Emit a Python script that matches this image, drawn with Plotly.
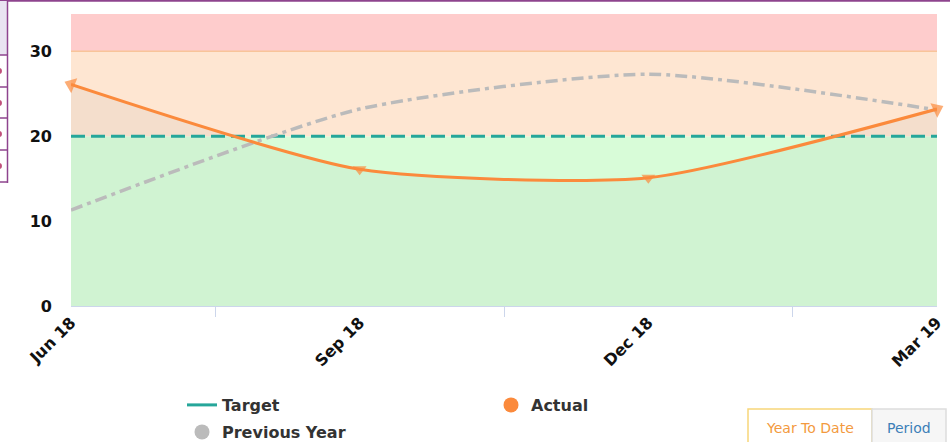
import plotly.graph_objects as go

# ---- data ----
months = ["Jun 18", "Sep 18", "Dec 18", "Mar 19"]
actual = [26.1, 16.1, 15.1, 23.2]
previous_year = [11.3, 23.2, 27.3, 23.1]
target = [20, 20, 20, 20]

# band limits (value axis)
band_green = (0, 20)
band_orange = (20, 30)
band_red = (30, 35)
y_max = 34.4

W, H = 950, 442
ML, MR, MT, MB = 71, 13, 14, 136
PW, PH = W - ML - MR, H - MT - MB

xs = list(range(len(months)))

ORANGE = "#fb8a3c"
TEAL = "#26a69a"
GREY = "#bbbbbb"
SMOOTH = 0.62


def px(x):
    return (x - ML) / PW


def py(y):
    return (H - MB - y) / PH


fig = go.Figure()

# Actual: soft shaded area under the line
fig.add_trace(go.Scatter(
    x=xs, y=actual, mode="lines", fill="tozeroy",
    fillcolor="rgba(90,100,120,0.06)",
    line=dict(color="rgba(0,0,0,0)", width=0, shape="spline", smoothing=SMOOTH),
    showlegend=False, hoverinfo="skip"))

# Target line
fig.add_trace(go.Scatter(
    x=xs, y=target, mode="lines",
    line=dict(color=TEAL, width=3, dash="14px,6px"),
    showlegend=False))

# Previous year
fig.add_trace(go.Scatter(
    x=xs, y=previous_year, mode="lines",
    line=dict(color=GREY, width=3.5, dash="12px,5px,4px,5px",
              shape="spline", smoothing=SMOOTH),
    showlegend=False))

# Actual line with markers (arrow heads at both ends)
fig.add_trace(go.Scatter(
    x=xs, y=actual, mode="lines+markers",
    line=dict(color=ORANGE, width=3, shape="spline", smoothing=SMOOTH),
    marker=dict(color=ORANGE, size=[14, 12, 12, 14],
                symbol=["triangle-left", "triangle-down", "triangle-down", "triangle-right"],
                angle=[22, 0, 0, -25], line=dict(width=0)),
    cliponaxis=False, showlegend=False))

# legend entries: two rows, each its own legend box
legend_font = dict(family="DejaVu Sans", size=16, color="#333333", weight="bold")
fig.add_trace(go.Scatter(x=[None], y=[None], mode="lines", name="Target",
                         line=dict(color=TEAL, width=3), legend="legend"))
fig.add_trace(go.Scatter(x=[None], y=[None], mode="markers", name="Actual",
                         marker=dict(color=ORANGE, size=15, symbol="circle"), legend="legend"))
fig.add_trace(go.Scatter(x=[None], y=[None], mode="markers", name="Previous Year",
                         marker=dict(color=GREY, size=15, symbol="circle"), legend="legend2"))

shapes = [
    dict(type="rect", xref="paper", yref="y", x0=0, x1=1, y0=band_green[0], y1=band_green[1],
         fillcolor="#d8fcd8", line=dict(width=0), layer="below"),
    dict(type="rect", xref="paper", yref="y", x0=0, x1=1, y0=band_orange[0], y1=band_orange[1],
         fillcolor="#fee6d2", line=dict(width=0), layer="below"),
    dict(type="rect", xref="paper", yref="y", x0=0, x1=1, y0=band_red[0], y1=y_max,
         fillcolor="#fecccc", line=dict(width=0), layer="below"),
    dict(type="line", xref="paper", yref="y", x0=0, x1=1, y0=band_red[0], y1=band_red[0],
         line=dict(color="#f8c49a", width=1.5), layer="below"),
]

# page chrome: purple frame on top and the side table edge
PURPLE = "#8e448e"
shapes.append(dict(type="line", xref="paper", yref="paper", x0=px(0), x1=px(W),
                   y0=py(0.8), y1=py(0.8), line=dict(color=PURPLE, width=2)))
shapes.append(dict(type="rect", xref="paper", yref="paper", x0=px(-2), x1=px(7.5),
                   y0=py(55), y1=py(1), fillcolor="#e9e4f1", line=dict(width=0)))
shapes.append(dict(type="line", xref="paper", yref="paper", x0=px(7.5), x1=px(7.5),
                   y0=py(0), y1=py(183), line=dict(color=PURPLE, width=1.5)))
for yy in [55, 87, 118, 150, 182]:
    shapes.append(dict(type="line", xref="paper", yref="paper", x0=px(0), x1=px(7.5),
                       y0=py(yy), y1=py(yy), line=dict(color=PURPLE, width=1.5)))
for yy in [71, 103, 134, 166]:
    shapes.append(dict(type="circle", xref="paper", yref="paper", x0=px(-4), x1=px(2),
                       y0=py(yy + 3), y1=py(yy - 3), fillcolor="#c0507a", line=dict(width=0)))

# toggle buttons at the bottom right
shapes.append(dict(type="rect", xref="paper", yref="paper", x0=px(748), x1=px(872),
                   y0=py(452), y1=py(409), fillcolor="#ffffff",
                   line=dict(color="#f8d67a", width=1.5)))
shapes.append(dict(type="rect", xref="paper", yref="paper", x0=px(872), x1=px(946),
                   y0=py(452), y1=py(409), fillcolor="#f6f6f6",
                   line=dict(color="#dddddd", width=1.5)))

annotations = [
    dict(text="Year To Date", xref="paper", yref="paper", x=px(810), y=py(428),
         xanchor="center", yanchor="middle", showarrow=False,
         font=dict(family="DejaVu Sans", size=14, color="#f39a3e")),
    dict(text="Period", xref="paper", yref="paper", x=px(909), y=py(428),
         xanchor="center", yanchor="middle", showarrow=False,
         font=dict(family="DejaVu Sans", size=14, color="#3d7fb8")),
]

fig.update_layout(
    width=W, height=H,
    margin=dict(l=ML, r=MR, t=MT, b=MB, autoexpand=False),
    paper_bgcolor="white", plot_bgcolor="white",
    shapes=shapes, annotations=annotations,
    showlegend=True,
    legend=dict(orientation="h", x=px(182), y=py(405), xanchor="left", yanchor="middle",
                font=legend_font, entrywidth=264, itemwidth=30,
                traceorder="normal", bgcolor="rgba(0,0,0,0)"),
    legend2=dict(orientation="h", x=px(182), y=py(432), xanchor="left", yanchor="middle",
                 font=legend_font, itemwidth=30, bgcolor="rgba(0,0,0,0)"),
    xaxis=dict(range=[0, len(months) - 1], tickvals=xs, ticktext=months,
               tickangle=-45, ticks="", showgrid=False, zeroline=False, automargin=False,
               showline=True, linecolor="#ccd6eb", linewidth=1,
               tickfont=dict(family="DejaVu Sans", size=16, color="#111111", weight="bold"),
               minor=dict(tickvals=[i + 0.5 for i in xs[:-1]], ticks="outside",
                          ticklen=10, tickcolor="#ccd6eb", tickwidth=1, showgrid=False)),
    yaxis=dict(range=[band_green[0], y_max], tickvals=[0, 10, 20, 30],
               showgrid=False, zeroline=False, ticks="", ticklabelstandoff=18, automargin=False,
               tickfont=dict(family="DejaVu Sans", size=16, color="#111111", weight="bold")),
)

fig.write_html("out.html")
